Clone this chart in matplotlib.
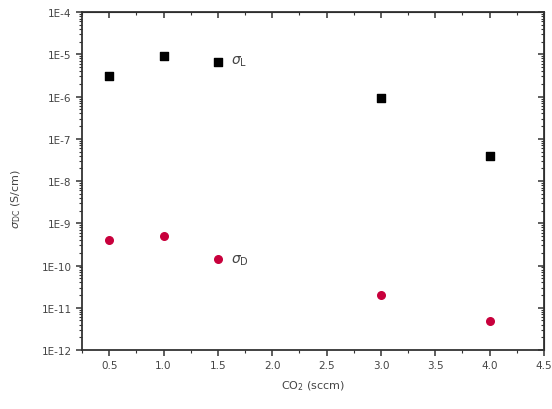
import matplotlib
matplotlib.use('Agg')
import matplotlib.pyplot as plt
from matplotlib.ticker import LogLocator, FuncFormatter, MultipleLocator, NullFormatter
import numpy as np

co2 = [0.5, 1.0, 1.5, 3.0, 4.0]
sigma_l = [3.0e-6, 9.2e-6, 6.6e-6, 9.2e-7, 3.9e-8]
sigma_d = [4.0e-10, 5.0e-10, 1.4e-10, 2.0e-11, 4.9e-12]

txt = '#444444'
plt.rcParams['font.family'] = ['DejaVu Sans']

fig = plt.figure(figsize=(5.52, 4.10), dpi=100)
ax = fig.add_axes([0.1486, 0.1439, 0.8369, 0.8241])

ax.scatter(co2, sigma_l, marker='s', s=26, color='black', zorder=3)
ax.scatter(co2, sigma_d, marker='o', s=30, color='#c8003c', zorder=3)

ax.set_yscale('log')
ax.set_ylim(1e-12, 1e-4)
ax.set_xlim(0.25, 4.5)

ax.xaxis.set_major_locator(MultipleLocator(0.5))
ax.xaxis.set_minor_locator(MultipleLocator(0.25))
ax.yaxis.set_major_locator(LogLocator(base=10, numticks=20))
ax.yaxis.set_minor_locator(LogLocator(base=10, subs=np.arange(2, 10), numticks=20))
ax.yaxis.set_minor_formatter(NullFormatter())
ax.yaxis.set_major_formatter(FuncFormatter(lambda v, p: '1E%d' % round(np.log10(v))))
ax.xaxis.set_major_formatter(FuncFormatter(lambda v, p: '%.1f' % v))

for s in ax.spines.values():
    s.set_linewidth(1.3)
    s.set_color('#333333')

ax.tick_params(axis='both', which='both', colors='#333333', labelcolor=txt, labelsize=7.5)
ax.tick_params(axis='both', which='major', direction='out', length=4, width=1.1)
ax.tick_params(axis='both', which='minor', direction='out', length=2, width=0.8)

# top and right: inward ticks, no labels
axt = ax.secondary_xaxis('top')
axt.xaxis.set_major_locator(MultipleLocator(0.5))
axt.xaxis.set_minor_locator(MultipleLocator(0.25))
axt.tick_params(which='major', direction='in', length=4, width=1.1, colors='#333333', labeltop=False)
axt.tick_params(which='minor', direction='in', length=2, width=0.8, colors='#333333')
axr = ax.secondary_yaxis('right')
axr.yaxis.set_major_locator(LogLocator(base=10, numticks=20))
axr.yaxis.set_minor_locator(LogLocator(base=10, subs=np.arange(2, 10), numticks=20))
axr.tick_params(which='major', direction='in', length=4, width=1.1, colors='#333333', labelright=False)
axr.tick_params(which='minor', direction='in', length=2, width=0.8, colors='#333333')
axr.yaxis.set_minor_formatter(NullFormatter())

ax.text(1.62, 7.0e-6, r'$\sigma_\mathrm{L}$', fontsize=10, color=txt, va='center')
ax.text(1.62, 1.4e-10, r'$\sigma_\mathrm{D}$', fontsize=10, color=txt, va='center')

ax.set_xlabel(r'CO$_2$ (sccm)', fontsize=8, color=txt, labelpad=6)
ax.set_ylabel(r'$\sigma_\mathrm{DC}$ (S/cm)', fontsize=8, color=txt)
ax.yaxis.set_label_coords(-0.128, 0.45)

fig.savefig('out.png', dpi=100)
